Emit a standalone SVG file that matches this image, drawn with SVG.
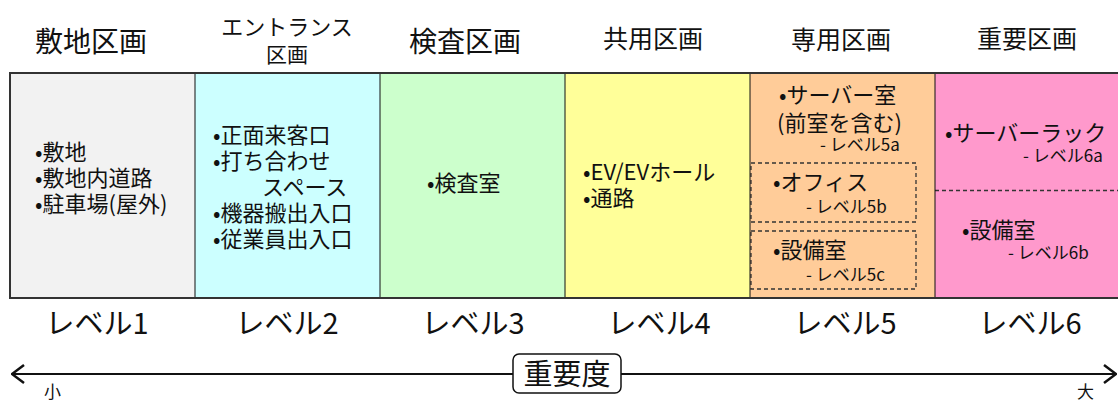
<svg xmlns="http://www.w3.org/2000/svg" width="1118" height="401" viewBox="0 0 1118 401">
<defs>
<style>
text{font-family:"Noto Sans CJK JP","Noto Sans",sans-serif;fill:#111;}
.hd{font-size:28px;text-anchor:middle;}
.hs{font-size:25px;text-anchor:middle;}
.b{font-size:22px;}
.s{font-size:17px;}
.lv{font-size:29px;text-anchor:middle;}
.sep{stroke:#111;stroke-width:1;}
.dash{fill:none;stroke:#333;stroke-width:1.3;stroke-dasharray:4 3;}
</style>
<marker id="ah" viewBox="0 0 14 20" refX="13" refY="10" markerWidth="14" markerHeight="20" markerUnits="userSpaceOnUse" orient="auto-start-reverse">
<path d="M1,1 L13,10 L1,19" fill="none" stroke="#111" stroke-width="2.5"/>
</marker>
</defs>
<rect width="1118" height="401" fill="#fff"/>

<g id="headers">
<text class="hd" x="91" y="52">敷地区画</text>
<text x="287" y="35" style="font-size:22px;text-anchor:middle">エントランス</text>
<text x="287" y="62" style="font-size:21px;text-anchor:middle">区画</text>
<text class="hd" x="465" y="52">検査区画</text>
<text class="hs" x="653" y="48">共用区画</text>
<text class="hs" x="841" y="49">専用区画</text>
<text class="hs" x="1027" y="48">重要区画</text>
</g>

<g id="col1">
<rect x="10" y="73" width="185" height="225" fill="#f2f2f2"/>
<text class="b" x="35" y="160">•敷地</text>
<text class="b" x="35" y="186">•敷地内道路</text>
<text class="b" x="35" y="212">•駐車場(屋外)</text>
</g>
<g id="col2">
<rect x="195" y="73" width="185" height="225" fill="#ccffff"/>
<text class="b" x="213" y="143">•正面来客口</text>
<text class="b" x="213" y="169">•打ち合わせ</text>
<text class="b" x="262" y="195">スペース</text>
<text class="b" x="213" y="221">•機器搬出入口</text>
<text class="b" x="213" y="247">•従業員出入口</text>
</g>
<g id="col3">
<rect x="380" y="73" width="185" height="225" fill="#ccffcc"/>
<text class="b" x="427" y="191">•検査室</text>
</g>
<g id="col4">
<rect x="565" y="73" width="185" height="225" fill="#ffff99"/>
<text class="b" x="583" y="180">•EV/EVホール</text>
<text class="b" x="583" y="206">•通路</text>
</g>
<g id="col5">
<rect x="750" y="73" width="185" height="225" fill="#ffcc99"/>
<text class="b" x="779" y="103">•サーバー室</text>
<text class="b" x="777" y="131">(前室を含む)</text>
<text class="s" x="820" y="151">- レベル5a</text>
<rect class="dash" x="751" y="163" width="165" height="59"/>
<text class="b" x="773" y="190">•オフィス</text>
<text class="s" x="806" y="213">- レベル5b</text>
<rect class="dash" x="751" y="231" width="165" height="58"/>
<text class="b" x="773" y="258">•設備室</text>
<text class="s" x="806" y="281">- レベル5c</text>
</g>
<g id="col6">
<rect x="935" y="73" width="185" height="225" fill="#ff99cc"/>
<text class="b" x="945" y="141">•サーバーラック</text>
<text class="s" x="1023" y="162">- レベル6a</text>
<line class="dash" x1="935" y1="190.5" x2="1118" y2="190.5"/>
<text class="b" x="962" y="238">•設備室</text>
<text class="s" x="1008" y="259">- レベル6b</text>
</g>

<g id="frame">
<line class="sep" x1="195" y1="73" x2="195" y2="298"/>
<line class="sep" x1="380" y1="73" x2="380" y2="298"/>
<line class="sep" x1="565" y1="73" x2="565" y2="298"/>
<line class="sep" x1="750" y1="73" x2="750" y2="298"/>
<line class="sep" x1="935" y1="73" x2="935" y2="298"/>
<path d="M1120,73 H10 V298 H1120" fill="none" stroke="#333" stroke-width="2"/>
</g>

<g id="levels">
<text class="lv" x="97" y="334">レベル1</text>
<text class="lv" x="287" y="334">レベル2</text>
<text class="lv" x="473" y="334">レベル3</text>
<text class="lv" x="659" y="334">レベル4</text>
<text class="lv" x="845" y="334">レベル5</text>
<text class="lv" x="1030" y="334">レベル6</text>
</g>

<g id="connectors">
<line x1="513" y1="374" x2="12" y2="374" stroke="#111" stroke-width="2" marker-end="url(#ah)"/>
<line x1="621" y1="374" x2="1116" y2="374" stroke="#111" stroke-width="2" marker-end="url(#ah)"/>
</g>

<g id="importance">
<rect x="513" y="354" width="108" height="39" rx="6" fill="#fff" stroke="#111" stroke-width="1.5"/>
<text x="567" y="385" style="font-size:29px;text-anchor:middle">重要度</text>
<text x="44" y="398" style="font-size:17px">小</text>
<text x="1077" y="398" style="font-size:17px">大</text>
</g>
</svg>
